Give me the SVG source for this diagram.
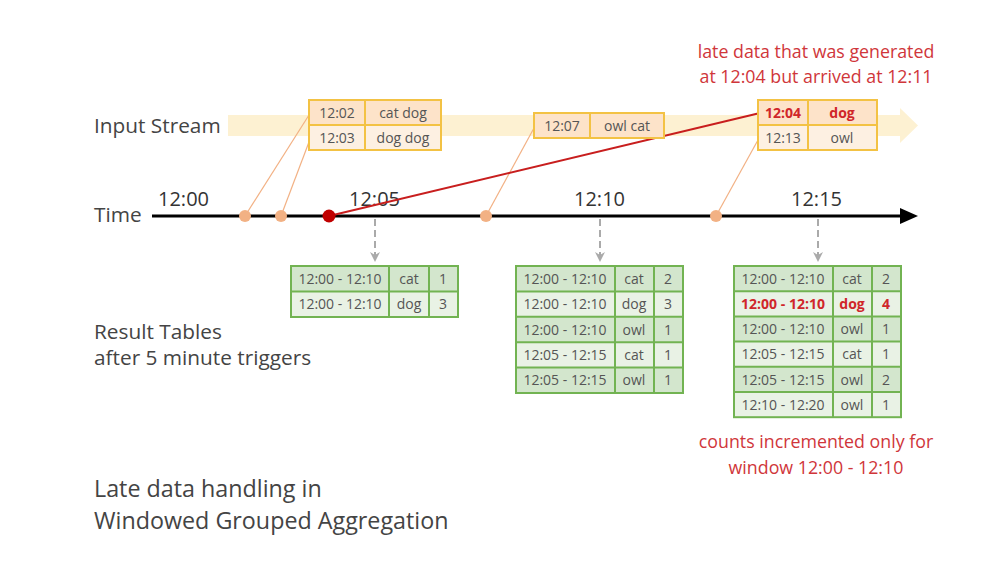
<svg xmlns="http://www.w3.org/2000/svg" width="982" height="562" viewBox="0 0 982 562">
<defs>
<style>
text{font-family:"Open Sans","Noto Sans","Liberation Sans",sans-serif;fill:#444}
.lbl{font-size:20.8px}
.big{font-size:23.3px}
.note{font-size:17.8px;text-anchor:middle;fill:#d0363a}
.tk{font-size:20px;fill:#333}
.cell{font-size:14px;text-anchor:middle;fill:#555}
.cell.red{fill:#d0262a;font-weight:bold}
.ib{stroke:#f3c244;stroke-width:2}
.in1{fill:#fde3c9}
.in2{fill:#fdf0e2}
.g{stroke:#72b352;stroke-width:2;fill:none}
.gd{fill:#d3e6cd}
.gl{fill:#e9f2e5}
.dash{stroke:#aaa;stroke-width:2;stroke-dasharray:7 4;fill:none}
.feed{stroke:#f2b184;stroke-width:1.2;fill:none}
.dot{fill:#f2b184}
</style>
<marker id="ga" viewBox="0 0 10 10" refX="9" refY="5" markerWidth="5" markerHeight="5" orient="auto"><path d="M0,0 L10,5 L0,10 L3,5 z" fill="#aaa"/></marker>
</defs>

<g id="stream">
<rect x="228" y="115" width="678" height="21" fill="#fdf1d2"/>
<path d="M900,108 L918,125.5 L900,143 z" fill="#fdf1d2"/>
<text class="lbl" x="94" y="133">Input Stream</text>
</g>

<g id="time-axis">
<line x1="152" y1="216" x2="905" y2="216" stroke="#000" stroke-width="3"/>
<path d="M900,208 L918,216 L900,224 z" fill="#000"/>
<text class="lbl" x="94" y="222">Time</text>
<text class="tk" x="158" y="206">12:00</text>
<text class="tk" x="349" y="206">12:05</text>
<text class="tk" x="574" y="206">12:10</text>
<text class="tk" x="791" y="206">12:15</text>
</g>

<g id="connectors">
<line class="feed" x1="245" y1="216" x2="309" y2="115"/>
<line class="feed" x1="281" y1="216" x2="309" y2="142"/>
<line class="feed" x1="486" y1="216" x2="534" y2="128"/>
<line class="feed" x1="716" y1="216" x2="758" y2="140"/>
<line x1="329" y1="216" x2="760" y2="113" stroke="#c81e1e" stroke-width="2"/>
<line class="dash" x1="375" y1="219" x2="375" y2="261" marker-end="url(#ga)"/>
<line class="dash" x1="600" y1="219" x2="600" y2="261" marker-end="url(#ga)"/>
<line class="dash" x1="818" y1="219" x2="818" y2="261" marker-end="url(#ga)"/>
</g>

<g id="events">
<circle class="dot" cx="245" cy="216" r="6"/>
<circle class="dot" cx="281" cy="216" r="6"/>
<circle cx="329" cy="216" r="6.5" fill="#c00000"/>
<circle class="dot" cx="486" cy="216" r="6"/>
<circle class="dot" cx="716" cy="216" r="6"/>
</g>

<g id="input-1">
<rect class="in1" x="309" y="100" width="132" height="25"/>
<rect class="in2" x="309" y="125" width="132" height="25"/>
<rect class="ib" fill="none" x="309" y="100" width="132" height="50"/>
<line class="ib" x1="309" y1="125" x2="441" y2="125"/>
<line class="ib" x1="365" y1="100" x2="365" y2="150"/>
<text class="cell" x="337" y="118">12:02</text>
<text class="cell" x="403" y="118">cat dog</text>
<text class="cell" x="337" y="143">12:03</text>
<text class="cell" x="403" y="143">dog dog</text>
</g>

<g id="input-2">
<rect class="in1 ib" x="534" y="113" width="130" height="25"/>
<line class="ib" x1="590" y1="113" x2="590" y2="138"/>
<text class="cell" x="562" y="131">12:07</text>
<text class="cell" x="627" y="131">owl cat</text>
</g>

<g id="input-3">
<rect class="in1" x="758" y="100" width="119" height="25"/>
<rect class="in2" x="758" y="125" width="119" height="25"/>
<rect class="ib" fill="none" x="758" y="100" width="119" height="50"/>
<line class="ib" x1="758" y1="125" x2="877" y2="125"/>
<line class="ib" x1="808" y1="100" x2="808" y2="150"/>
<text class="cell red" x="783" y="118">12:04</text>
<text class="cell red" x="842" y="118">dog</text>
<text class="cell" x="783" y="143">12:13</text>
<text class="cell" x="842" y="143">owl</text>
</g>

<g id="late-note">
<text class="note" x="816" y="58">late data that was generated</text>
<text class="note" x="816" y="83">at 12:04 but arrived at 12:11</text>
</g>

<g id="result-1">
<rect class="gd" x="291" y="266" width="167" height="25.5"/>
<rect class="gl" x="291" y="291.5" width="167" height="25.5"/>
<rect class="g" x="291" y="266" width="167" height="51"/>
<line class="g" x1="291" y1="291.5" x2="458" y2="291.5"/>
<line class="g" x1="389" y1="266" x2="389" y2="317"/>
<line class="g" x1="429" y1="266" x2="429" y2="317"/>
<text class="cell" x="340" y="284">12:00 - 12:10</text><text class="cell" x="409" y="284">cat</text><text class="cell" x="443" y="284">1</text>
<text class="cell" x="340" y="309">12:00 - 12:10</text><text class="cell" x="409" y="309">dog</text><text class="cell" x="443" y="309">3</text>
</g>

<g id="result-2">
<rect class="gd" x="516" y="266" width="167" height="25.4"/>
<rect class="gl" x="516" y="291.4" width="167" height="25.4"/>
<rect class="gd" x="516" y="316.8" width="167" height="25.4"/>
<rect class="gl" x="516" y="342.2" width="167" height="25.4"/>
<rect class="gd" x="516" y="367.6" width="167" height="25.4"/>
<rect class="g" x="516" y="266" width="167" height="127"/>
<line class="g" x1="516" y1="291.4" x2="683" y2="291.4"/>
<line class="g" x1="516" y1="316.8" x2="683" y2="316.8"/>
<line class="g" x1="516" y1="342.2" x2="683" y2="342.2" stroke-width="3"/>
<line class="g" x1="516" y1="367.6" x2="683" y2="367.6"/>
<line class="g" x1="615" y1="266" x2="615" y2="393"/>
<line class="g" x1="654" y1="266" x2="654" y2="393"/>
<text class="cell" x="565" y="284">12:00 - 12:10</text><text class="cell" x="634" y="284">cat</text><text class="cell" x="668" y="284">2</text>
<text class="cell" x="565" y="309">12:00 - 12:10</text><text class="cell" x="634" y="309">dog</text><text class="cell" x="668" y="309">3</text>
<text class="cell" x="565" y="335">12:00 - 12:10</text><text class="cell" x="634" y="335">owl</text><text class="cell" x="668" y="335">1</text>
<text class="cell" x="565" y="360">12:05 - 12:15</text><text class="cell" x="634" y="360">cat</text><text class="cell" x="668" y="360">1</text>
<text class="cell" x="565" y="385">12:05 - 12:15</text><text class="cell" x="634" y="385">owl</text><text class="cell" x="668" y="385">1</text>
</g>

<g id="result-3">
<rect class="gd" x="734" y="266" width="167" height="25.2"/>
<rect class="gl" x="734" y="291.2" width="167" height="25.2"/>
<rect class="gd" x="734" y="316.4" width="167" height="25.2"/>
<rect class="gl" x="734" y="341.6" width="167" height="25.2"/>
<rect class="gd" x="734" y="366.8" width="167" height="25.2"/>
<rect class="gl" x="734" y="392" width="167" height="25.2"/>
<rect class="g" x="734" y="266" width="167" height="151.2"/>
<line class="g" x1="734" y1="291.2" x2="901" y2="291.2"/>
<line class="g" x1="734" y1="316.4" x2="901" y2="316.4"/>
<line class="g" x1="734" y1="341.6" x2="901" y2="341.6" stroke-width="3"/>
<line class="g" x1="734" y1="366.8" x2="901" y2="366.8"/>
<line class="g" x1="734" y1="392" x2="901" y2="392" stroke-width="3"/>
<line class="g" x1="833" y1="266" x2="833" y2="417.2"/>
<line class="g" x1="872" y1="266" x2="872" y2="417.2"/>
<text class="cell" x="783" y="284">12:00 - 12:10</text><text class="cell" x="852" y="284">cat</text><text class="cell" x="886" y="284">2</text>
<text class="cell red" x="783" y="309">12:00 - 12:10</text><text class="cell red" x="852" y="309">dog</text><text class="cell red" x="886" y="309">4</text>
<text class="cell" x="783" y="334">12:00 - 12:10</text><text class="cell" x="852" y="334">owl</text><text class="cell" x="886" y="334">1</text>
<text class="cell" x="783" y="359">12:05 - 12:15</text><text class="cell" x="852" y="359">cat</text><text class="cell" x="886" y="359">1</text>
<text class="cell" x="783" y="385">12:05 - 12:15</text><text class="cell" x="852" y="385">owl</text><text class="cell" x="886" y="385">2</text>
<text class="cell" x="783" y="410">12:10 - 12:20</text><text class="cell" x="852" y="410">owl</text><text class="cell" x="886" y="410">1</text>
</g>

<g id="count-note">
<text class="note" x="816" y="448">counts incremented only for</text>
<text class="note" x="816" y="474">window 12:00 - 12:10</text>
</g>

<g id="captions">
<text class="lbl" x="94" y="339">Result Tables</text>
<text class="lbl" x="94" y="365">after 5 minute triggers</text>
<text class="big" x="94" y="497">Late data handling in</text>
<text class="big" x="94" y="529">Windowed Grouped Aggregation</text>
</g>
</svg>
